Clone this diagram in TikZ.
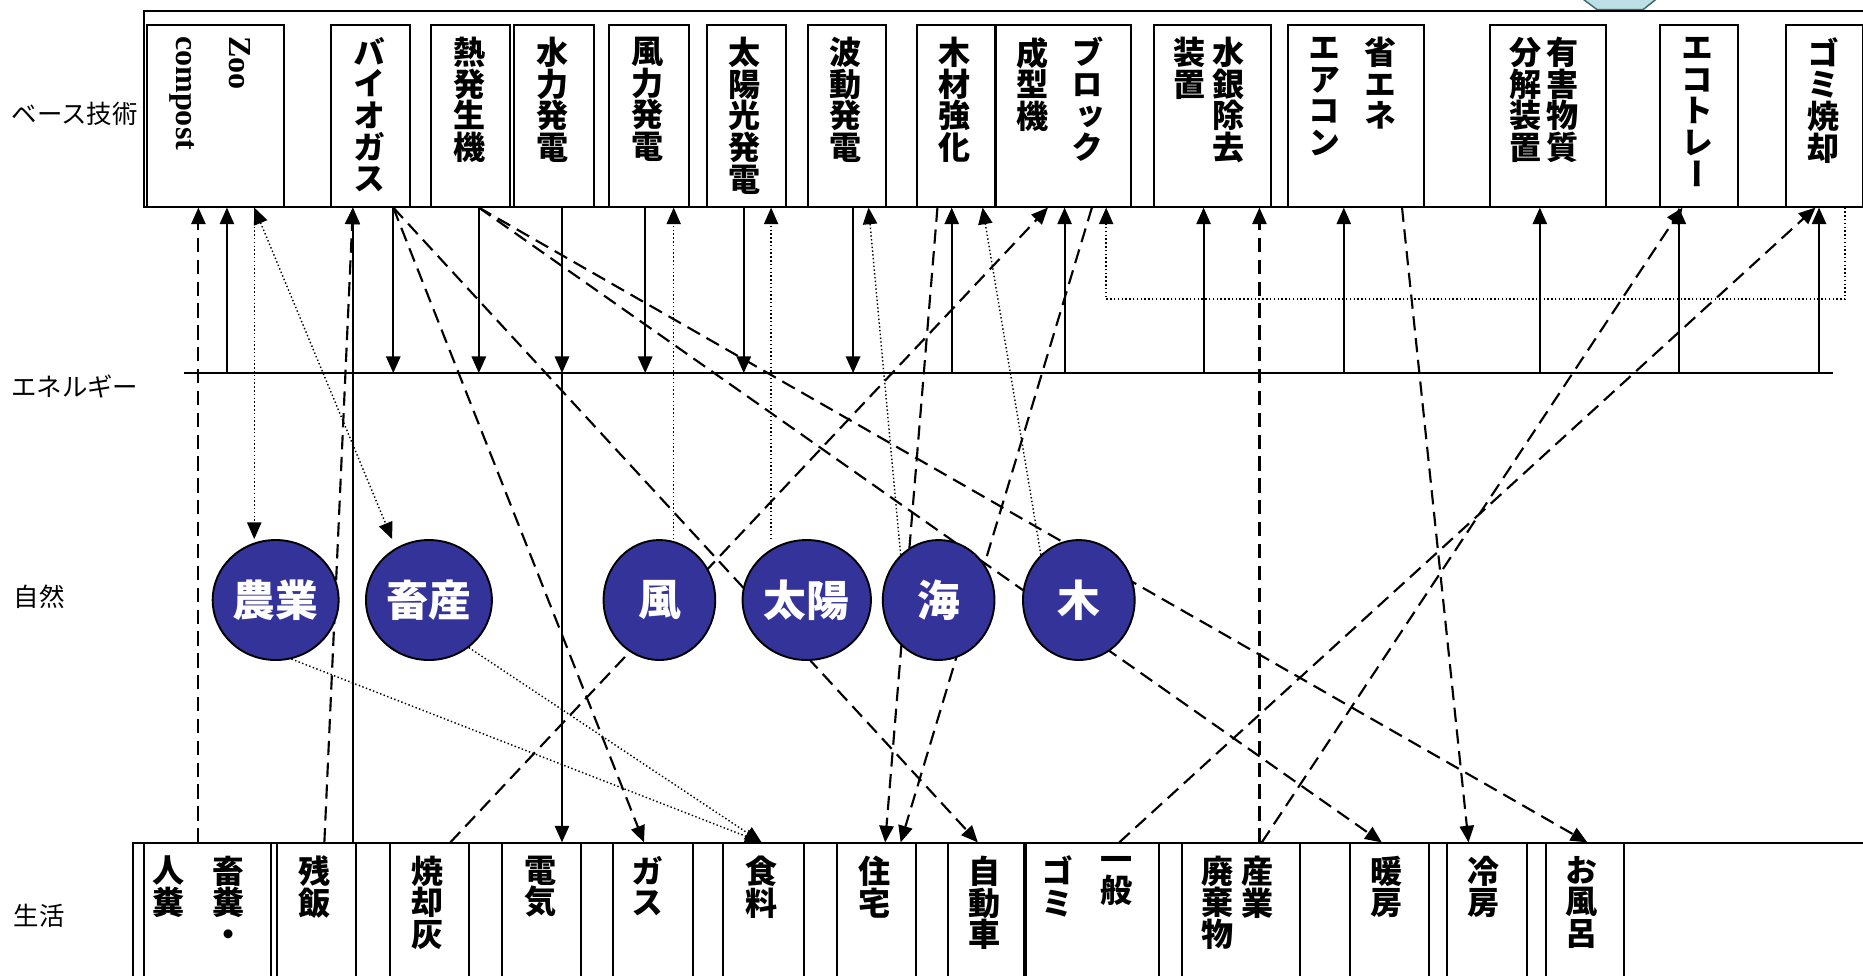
\documentclass[tikz,border=0pt]{standalone}
\usepackage{fontspec}
\usetikzlibrary{arrows.meta,shapes.geometric,backgrounds}
\newfontfamily\jpv[RawFeature=+vert]{Noto Sans CJK JP}
\newfontfamily\jph{Noto Sans CJK JP}
\newfontfamily\lser{Liberation Serif}
\newcommand\vtfont{\jpv\bfseries\fontsize{13.5}{13.3}\selectfont\lineskiplimit-100pt\relax}
\definecolor{navy}{RGB}{51,51,153}
\definecolor{hexblue}{RGB}{188,224,230}
\definecolor{hexedge}{RGB}{60,100,110}
\tikzset{
  tbox/.style={draw,line width=0.85pt,inner sep=0pt,minimum height=76.5pt,anchor=north west},
  lbox/.style={draw,line width=0.85pt,inner sep=0pt,minimum height=70pt,anchor=north west},
  framebox/.style={draw,line width=0.85pt,inner sep=0pt,anchor=north west},
  vtxt/.style={font=\vtfont,align=center,inner sep=0pt,anchor=north},
  ltxt/.style={font=\lser\bfseries\fontsize{13.5}{16}\selectfont,rotate=-90,anchor=west,inner sep=0pt},
  lab/.style={font=\jph\fontsize{10.7}{12}\selectfont,inner sep=0pt},
  nat/.style={ellipse,draw=black,line width=0.8pt,fill=navy,text=white,font=\jph\bfseries\fontsize{18}{18}\selectfont,minimum height=50.5pt,inner sep=0pt},
  conn/.style={line width=0.9pt},
  arr/.style={-{Triangle[length=7pt,width=6pt]}},
  darr/.style={{Triangle[length=7pt,width=6pt]}-{Triangle[length=7pt,width=6pt]}},
  dsh/.style={dash pattern=on 6pt off 3.2pt},
  dtt/.style={line width=0.6pt,dash pattern=on 0.6pt off 1pt},
}
\begin{document}
\begin{tikzpicture}[x=0.5pt,y=-0.5pt]
\clip (0,0) rectangle (1568,821);
% light blue shape at top edge
\filldraw[fill=hexblue,draw=hexedge,line width=0.6pt] (1328,-4) -- (1344,8) -- (1383,8) -- (1398,-4) -- cycle;
% frames
\node[framebox,minimum width=730pt,minimum height=82.5pt] (techframe) at (120,8) {};
\node[framebox,minimum width=734.5pt,minimum height=70pt] (lifeframe) at (111,709) {};
% top boxes
\node[tbox,minimum width=57.5pt] (zoo) at (123,20) {};
\node[tbox,minimum width=33pt] (bio) at (278,20) {};
\node[tbox,minimum width=33pt] (netsu) at (362,20) {};
\node[tbox,minimum width=33.5pt] (sui) at (432,20) {};
\node[tbox,minimum width=33.5pt] (furyoku) at (512,20) {};
\node[tbox,minimum width=33.5pt] (taiyoko) at (594,20) {};
\node[tbox,minimum width=33pt] (hado) at (679,20) {};
\node[tbox,minimum width=33pt] (mokuzai) at (771,20) {};
\node[tbox,minimum width=57pt] (block) at (837,20) {};
\node[tbox,minimum width=49.5pt] (suigin) at (970,20) {};
\node[tbox,minimum width=57.5pt] (shoene) at (1083,20) {};
\node[tbox,minimum width=49pt] (yugai) at (1253,20) {};
\node[tbox,minimum width=33pt] (eco) at (1396,20) {};
\node[tbox,minimum width=32.5pt] (gomi) at (1502,20) {};
% top texts
\node[ltxt] (t-zoo1) at (202,30) {Zoo};
\node[ltxt] (t-zoo2) at (153,30) {compost};
\node[vtxt] (t-bio) at (311,31) {バ\\イ\\オ\\ガ\\ス};
\node[vtxt] (t-netsu) at (395,31) {熱\\発\\生\\機};
\node[vtxt] (t-sui) at (465,31) {水\\力\\発\\電};
\node[vtxt] (t-furyoku) at (545,31) {風\\力\\発\\電};
\node[vtxt] (t-taiyoko) at (627,31) {太\\陽\\光\\発\\電};
\node[vtxt] (t-hado) at (712,31) {波\\動\\発\\電};
\node[vtxt] (t-mokuzai) at (803,31) {木\\材\\強\\化};
\node[vtxt] (t-block1) at (915,31) {ブ\\ロ\\ッ\\ク};
\node[vtxt] (t-block2) at (869,31) {成\\型\\機};
\node[vtxt] (t-suigin1) at (1034,31) {水\\銀\\除\\去};
\node[vtxt] (t-suigin2) at (1001,31) {装\\置};
\node[vtxt] (t-shoene1) at (1162,31) {省\\エ\\ネ};
\node[vtxt] (t-shoene2) at (1115,31) {エ\\ア\\コ\\ン};
\node[vtxt] (t-yugai1) at (1315,31) {有\\害\\物\\質};
\node[vtxt] (t-yugai2) at (1284,31) {分\\解\\装\\置};
\node[vtxt] (t-eco) at (1429,31) {エ\\コ\\ト\\レ\\ー};
\node[vtxt] (t-gomi) at (1535,31) {ゴ\\ミ\\焼\\却};
% bottom boxes
\node[lbox,minimum width=53.5pt] (b1) at (120,709) {};
\node[lbox,minimum width=33.5pt] (b2) at (232,709) {};
\node[lbox,minimum width=33.5pt] (b3) at (327,709) {};
\node[lbox,minimum width=33pt] (b4) at (422,709) {};
\node[lbox,minimum width=33.5pt] (b5) at (515,709) {};
\node[lbox,minimum width=34pt] (b6) at (608,709) {};
\node[lbox,minimum width=33pt] (b7) at (704,709) {};
\node[lbox,minimum width=32pt] (b8) at (797,709) {};
\node[lbox,minimum width=56pt] (b9) at (863,709) {};
\node[lbox,minimum width=49.5pt] (b10) at (994,709) {};
\node[lbox,minimum width=33.5pt] (b11) at (1135,709) {};
\node[lbox,minimum width=33.5pt] (b12) at (1217,709) {};
\node[lbox,minimum width=33pt] (b13) at (1300,709) {};
% bottom texts
\node[vtxt] (s-b1a) at (192,720) {畜\\糞\\・};
\node[vtxt] (s-b1b) at (142,720) {人\\糞};
\node[vtxt] (s-b2) at (265,720) {残\\飯};
\node[vtxt] (s-b3) at (360,720) {焼\\却\\灰};
\node[vtxt] (s-b4) at (455,720) {電\\気};
\node[vtxt] (s-b5) at (545,720) {ガ\\ス};
\node[vtxt] (s-b6) at (641,720) {食\\料};
\node[vtxt] (s-b7) at (736,720) {住\\宅};
\node[vtxt] (s-b8) at (829,720) {自\\動\\車};
\node[vtxt] (s-b9a) at (940,720) {一\\般};
\node[vtxt] (s-b9b) at (890,720) {ゴ\\ミ};
\node[vtxt] (s-b10a) at (1058,720) {産\\業};
\node[vtxt] (s-b10b) at (1025,720) {廃\\棄\\物};
\node[vtxt] (s-b11) at (1167,720) {暖\\房};
\node[vtxt] (s-b12) at (1249,720) {冷\\房};
\node[vtxt] (s-b13) at (1331,720) {お\\風\\呂};
% row labels
\node[lab] (l-base) at (63,96) {ベース技術};
\node[lab] (l-energy) at (63,325) {エネルギー};
\node[lab] (l-nature) at (33,502) {自然};
\node[lab] (l-life) at (33,771) {生活};
% energy line
\coordinate (eL) at (155,314);
\coordinate (eR) at (1543,314);
\draw[conn] (eL) -- (eR);
% nature
\node[nat,minimum width=53pt] (nogyo) at (232,505) {農業};
\node[nat,minimum width=53pt] (chiku) at (361,505) {畜産};
\node[nat,minimum width=47pt] (kaze) at (555,505) {風};
\node[nat,minimum width=54pt] (taiyo) at (679,505) {太陽};
\node[nat,minimum width=47pt] (umi) at (790,505) {海};
\node[nat,minimum width=47pt] (ki) at (908,505) {木};
% connectors
\begin{scope}[on background layer]
% energy arrows (solid)
\draw[conn,arr] (eL -| 191,0) -- (zoo.south -| 191,0);
\draw[conn,arr] (bio.south -| 331,0) -- (eL -| 331,0);
\draw[conn,arr] (netsu.south -| 403,0) -- (eL -| 403,0);
\draw[conn,arr] (sui.south -| 473,0) -- (eL -| 473,0);
\draw[conn,arr] (eL -| 473,0) -- (b4.north -| 473,0);
\draw[conn,arr] (furyoku.south -| 543,0) -- (eL -| 543,0);
\draw[conn,arr] (taiyoko.south -| 626,0) -- (eL -| 626,0);
\draw[conn,arr] (hado.south -| 718,0) -- (eL -| 718,0);
\draw[conn,arr] (eL -| 801,0) -- (mokuzai.south -| 801,0);
\draw[conn,arr] (eL -| 896,0) -- (block.south -| 896,0);
\draw[conn,arr] (eL -| 1013,0) -- (suigin.south -| 1013,0);
\draw[conn,arr] (eL -| 1131,0) -- (shoene.south -| 1131,0);
\draw[conn,arr] (eL -| 1296,0) -- (yugai.south -| 1296,0);
\draw[conn,arr] (eL -| 1413,0) -- (eco.south -| 1413,0);
\draw[conn,arr] (eL -| 1531,0) -- (gomi.south -| 1531,0);
\draw[conn,arr] (b2.north -| 297,0) -- (bio.south -| 297,0);
% dashed
\draw[conn,dsh,arr] (b1.north -| 167,0) -- (zoo.south -| 167,0);
\draw[conn,dsh,arr] (b2.north -| 273,0) -- (bio.south -| 297,0);
\draw[conn,dsh,arr] (bio.south -| 331,0) -- (b5.north -| 542,0);
\draw[conn,dsh,arr] (bio.south -| 331,0) -- (b8.north -| 823,0);
\draw[conn,dsh,arr] (netsu.south -| 403,0) -- (b11.north -| 1163,0);
\draw[conn,dsh,arr] (netsu.south -| 403,0) -- (b13.north -| 1336,0);
\draw[conn,dsh,arr] (mokuzai.south -| 789,0) -- (b7.north -| 745,0);
\draw[conn,dsh,arr] (block.south -| 919,0) -- (b7.north -| 758,0);
\draw[conn,dsh,arr] (b3.north -| 379,0) -- (block.south -| 882,0);
\draw[conn,dsh,arr] (b10.north -| 1060,0) -- (suigin.south -| 1060,0);
\draw[conn,dsh,arr] (shoene.south -| 1180,0) -- (b12.north -| 1236,0);
\draw[conn,dsh,arr] (b10.north -| 1062,0) -- (eco.south -| 1416,0);
\draw[conn,dsh,arr] (b9.north -| 942,0) -- (gomi.south -| 1528,0);
% dotted
\draw[dtt,arr] (zoo.south -| 214,0) -- (nogyo.north -| 214,0);
\draw[dtt,darr] (zoo.south -| 214,0) -- (chiku.north -| 330,0);
\draw[dtt,arr] (kaze.north -| 567,0) -- (furyoku.south -| 567,0);
\draw[dtt,arr] (taiyo.north -| 649,0) -- (taiyoko.south -| 649,0);
\draw[dtt,arr] (umi.130) -- (hado.south -| 731,0);
\draw[dtt,arr] (ki.130) -- (mokuzai.south -| 827,0);
\draw[dtt,arr] (gomi.south -| 1553,0) -- ++(0,77) -| (block.south -| 931,0);
\draw[dtt,arr] (nogyo.285) -- (b6.north -| 641,0);
\draw[dtt,arr] (chiku.310) -- (b6.north -| 641,0);
\end{scope}
\end{tikzpicture}
\end{document}
